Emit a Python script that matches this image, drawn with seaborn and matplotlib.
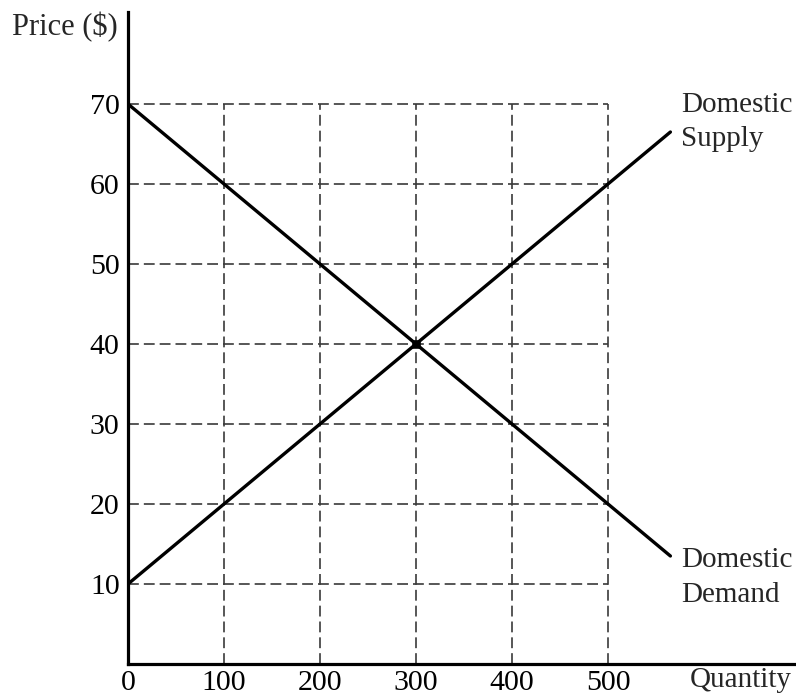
import matplotlib
matplotlib.use("Agg")
import matplotlib.pyplot as plt
import seaborn as sns
import pandas as pd

sns.set_theme(style="white")
plt.rcParams['font.family'] = ['Liberation Serif', 'DejaVu Serif']

# Data
quantity_ticks = [0, 100, 200, 300, 400, 500]
price_ticks = [10, 20, 30, 40, 50, 60, 70]
supply_q = [0, 565]
supply_p = [10, 66.5]
demand_q = [0, 565]
demand_p = [70, 13.5]
equilibrium_q = [300]
equilibrium_p = [40]

W, H = 796, 696
fig = plt.figure(figsize=(W / 100, H / 100), dpi=100)
ax = fig.add_axes([128 / W, 32 / H, 668 / W, 652 / H])

ax.set_xlim(0, 668 / 0.96)
ax.set_ylim(0, 652 / 8)

# grid
gcol = "#3a3a3a"
ax.hlines(price_ticks, 0, max(quantity_ticks), colors=gcol, linestyles=(0, (6.5, 3)), linewidth=1.2, zorder=1)
ax.vlines(quantity_ticks[1:], 0, max(price_ticks), colors=gcol, linestyles=(0, (6.5, 3)), linewidth=1.2, zorder=1)

sdf = pd.DataFrame({"q": supply_q, "p": supply_p})
ddf = pd.DataFrame({"q": demand_q, "p": demand_p})
sns.lineplot(data=sdf, x="q", y="p", ax=ax, color="black", linewidth=2.4, zorder=3)
sns.lineplot(data=ddf, x="q", y="p", ax=ax, color="black", linewidth=2.4, zorder=3)
sns.scatterplot(x=equilibrium_q, y=equilibrium_p, ax=ax, color="black", marker="s", s=30, zorder=4, edgecolor="black")

ax.set_xlabel("")
ax.set_ylabel("")
ax.set_xticks(quantity_ticks)
ax.set_yticks(price_ticks)
ax.tick_params(axis="both", length=0, labelsize=21.5, colors="black")
ax.tick_params(axis="x", pad=4)
ax.tick_params(axis="y", pad=6)

for s in ["top", "right"]:
    ax.spines[s].set_visible(False)
for s in ["left", "bottom"]:
    ax.spines[s].set_color("black")
    ax.spines[s].set_linewidth(2.3)

fs = 21
ax.text(-10.4, 78.6, "Price ($)", ha="right", va="baseline", fontsize=22, clip_on=False)
ax.text(691.5, -2.85, "Quantity", ha="right", va="baseline", fontsize=fs, clip_on=False)
ax.text(576, 69.0, "Domestic", ha="left", va="baseline", fontsize=fs)
ax.text(576, 64.8, "Supply", ha="left", va="baseline", fontsize=fs)
ax.text(576, 12.1, "Domestic", ha="left", va="baseline", fontsize=fs)
ax.text(576, 7.75, "Demand", ha="left", va="baseline", fontsize=fs)

fig.savefig("out.png", dpi=100)
